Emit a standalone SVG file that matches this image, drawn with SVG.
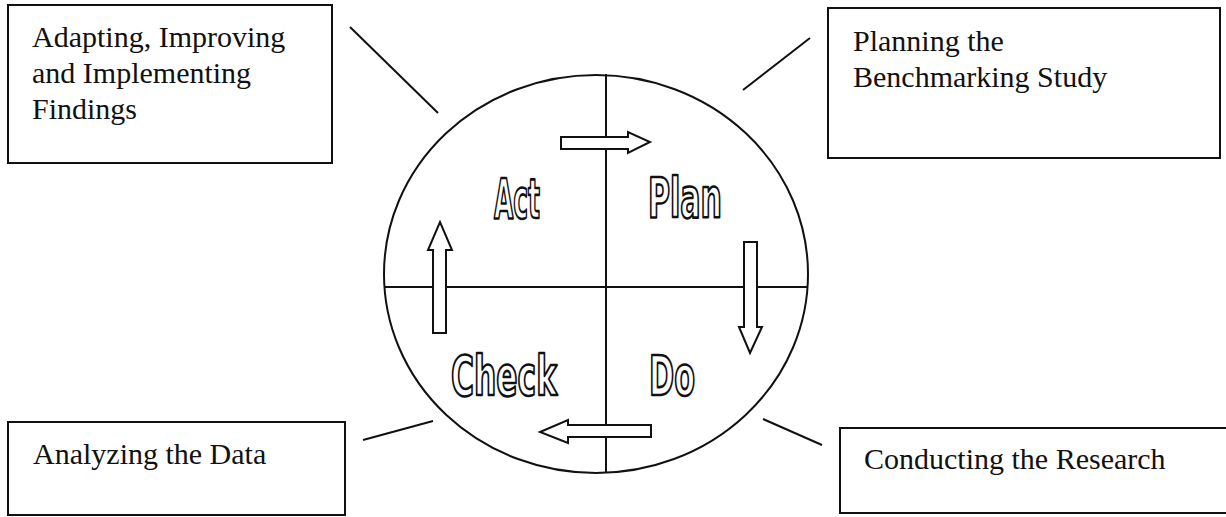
<svg xmlns="http://www.w3.org/2000/svg" width="1226" height="517" viewBox="0 0 1226 517">
<style>
.box{fill:#fff;stroke:#111;stroke-width:2}
.lbl{font-family:"Liberation Serif","Times New Roman",serif;font-size:30px;fill:#111}
.ln{stroke:#111;stroke-width:2;fill:none}
.arr{fill:#fff;stroke:#111;stroke-width:2;stroke-linejoin:miter}
.big{font-family:"DejaVu Sans Condensed","Liberation Sans Narrow","Liberation Sans",sans-serif;font-weight:bold;font-size:56px;fill:#fff;stroke:#111;stroke-width:2.6;stroke-linejoin:round}
</style>
<rect width="1226" height="517" fill="#fff"/>
<g id="cycle">
<ellipse cx="596" cy="274" rx="212" ry="199" class="ln"/>
<line x1="606" y1="74" x2="606" y2="473" class="ln"/>
<line x1="384" y1="287" x2="808" y2="287" class="ln"/>
<polygon class="arr" points="561,137 628,137 628,132 650,142 628,153 628,149 561,149"/>
<polygon class="arr" points="744,242 757,242 757,327 762,327 750,353 739,327 744,327"/>
<polygon class="arr" points="651,425 651,437 568,437 568,443 540,432 568,420 568,425"/>
<polygon class="arr" points="433,333 446,333 446,250 452,250 440,222 428,250 433,250"/>
<text class="big" x="494" y="218" textLength="46" lengthAdjust="spacingAndGlyphs">Act</text>
<text class="big" x="648" y="217" textLength="74" lengthAdjust="spacingAndGlyphs">Plan</text>
<text class="big" x="451" y="395" textLength="106" lengthAdjust="spacingAndGlyphs">Check</text>
<text class="big" x="649" y="395" textLength="46" lengthAdjust="spacingAndGlyphs">Do</text>
</g>
<g id="connectors">
<line x1="350" y1="27" x2="438" y2="113" class="ln"/>
<line x1="810" y1="38" x2="743" y2="90" class="ln"/>
<line x1="363" y1="440" x2="433" y2="421" class="ln"/>
<line x1="763" y1="419" x2="822" y2="445" class="ln"/>
</g>
<g id="act-box">
<rect x="8" y="5" width="324" height="158" class="box"/>
<text class="lbl" x="32" y="47">Adapting, Improving</text>
<text class="lbl" x="32" y="83">and Implementing</text>
<text class="lbl" x="32" y="119">Findings</text>
</g>
<g id="plan-box">
<rect x="828" y="8" width="392" height="150" class="box"/>
<text class="lbl" x="853" y="51">Planning the</text>
<text class="lbl" x="853" y="87">Benchmarking Study</text>
</g>
<g id="check-box">
<rect x="8" y="422" width="337" height="93" class="box"/>
<text class="lbl" x="33" y="464">Analyzing the Data</text>
</g>
<g id="do-box">
<rect x="840" y="428" width="392" height="85" class="box"/>
<text class="lbl" x="864" y="469">Conducting the Research</text>
</g>
</svg>
